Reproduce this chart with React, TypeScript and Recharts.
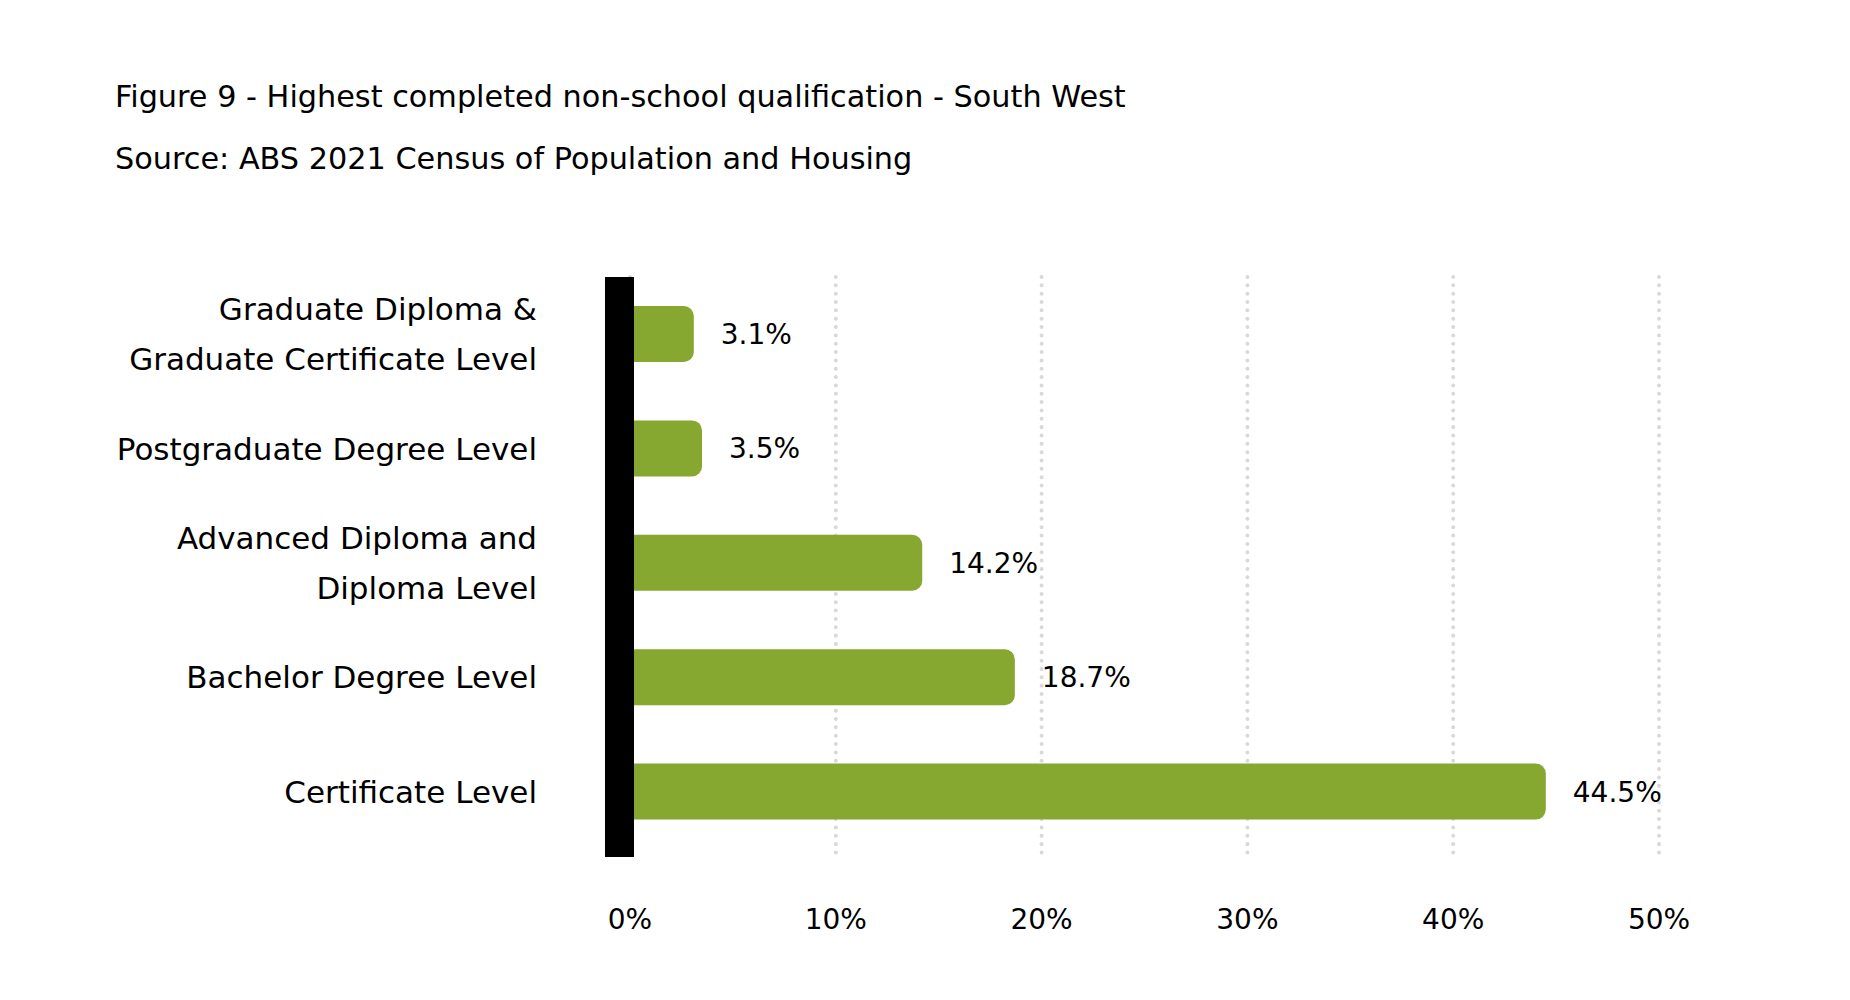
import React from 'react';
import { BarChart, Bar, XAxis, YAxis, CartesianGrid, LabelList, ReferenceLine } from 'recharts';

const categories = [
  'Graduate Diploma &\nGraduate Certificate Level',
  'Postgraduate Degree Level',
  'Advanced Diploma and\nDiploma Level',
  'Bachelor Degree Level',
  'Certificate Level',
];
const values = [3.1, 3.5, 14.2, 18.7, 44.5];
const xTicks = [0, 10, 20, 30, 40, 50];

const TITLE = 'Figure 9 - Highest completed non-school qualification - South West';
const SOURCE = 'Source: ABS 2021 Census of Population and Housing';

const data = categories.map((name, i) => ({ name, value: values[i] }));

const FONT = '"DejaVu Sans", sans-serif';
const GREEN = '#87A830';

const CategoryTick = (props: any) => {
  const { x, y, payload } = props;
  const lines = String(payload.value).split('\n');
  const n = lines.length;
  return (
    <text x={x} y={y} textAnchor="end" fontFamily={FONT} fontSize={31} fill="#000">
      {lines.map((l, i) => (
        <tspan key={i} x={x} y={y + (i - (n - 1) / 2) * 50 + 11}>
          {l}
        </tspan>
      ))}
    </text>
  );
};

const BlackAxis = (props: any) => {
  const { x1, y1, y2 } = props;
  const top = Math.min(y1, y2);
  const h = Math.abs(y2 - y1);
  return <rect x={x1 - 25} y={top} width={29} height={h} fill="#000" />;
};

export default function App() {
  return (
    <div style={{ position: 'absolute', left: 0, top: 0, width: 1850, height: 1000, background: '#fff' }}>
      <svg width={1850} height={200} style={{ position: 'absolute', left: 0, top: 0 }}>
        <text x={115} y={107} fontFamily={FONT} fontSize={30.3} fill="#000">{TITLE}</text>
        <text x={115} y={169} fontFamily={FONT} fontSize={30.3} fill="#000">{SOURCE}</text>
      </svg>
      <div style={{ position: 'absolute', left: 0, top: 0 }}>
        <BarChart
          width={1850}
          height={1000}
          data={data}
          layout="vertical"
          margin={{ top: 277, right: 191, bottom: 113, left: 0 }}
        >
          <CartesianGrid
            horizontal={false}
            stroke="#d9d9d9"
            strokeWidth={4}
            strokeDasharray="0.01 8.33"
            strokeLinecap="round"
          />
          <XAxis
            type="number"
            domain={[0, 50]}
            ticks={xTicks}
            tickFormatter={(v: number) => `${v}%`}
            axisLine={false}
            tickLine={false}
            tickSize={0}
            tickMargin={52}
            height={30}
            tick={{ fill: '#000', fontSize: 28, fontFamily: FONT }}
            interval={0}
          />
          <YAxis
            type="category"
            dataKey="name"
            width={630}
            axisLine={false}
            tickLine={false}
            tickSize={0}
            tickMargin={93}
            tick={<CategoryTick />}
            interval={0}
            padding={{ top: 0, bottom: 8 }}
          />
          <Bar dataKey="value" fill={GREEN} barSize={56} radius={[0, 10, 10, 0]} isAnimationActive={false}>
            <LabelList
              dataKey="value"
              position="right"
              offset={27}
              formatter={(v: any) => `${Number(v).toFixed(1)}%`}
              fill="#000"
              fontSize={28}
              fontFamily={FONT}
            />
          </Bar>
          <ReferenceLine x={0} shape={<BlackAxis />} ifOverflow="visible" />
        </BarChart>
      </div>
    </div>
  );
}
